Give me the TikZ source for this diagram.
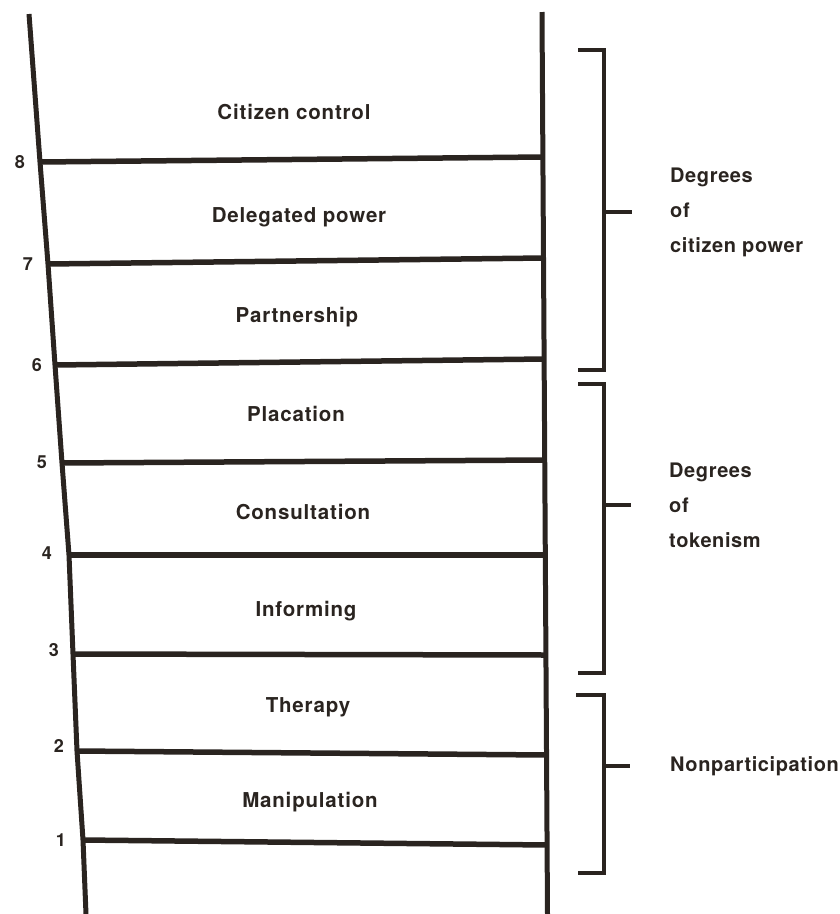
\documentclass[tikz,border=0pt]{standalone}
\usepackage{fontspec}
\setmainfont{TeX Gyre Heros}
\usepackage{xcolor}
\definecolor{Ink}{HTML}{2a2420}
\usetikzlibrary{positioning, calc}

\begin{document}
\begin{tikzpicture}[x=1pt, y=-1pt,
  rail/.style={draw=Ink, line width=5pt, line join=round},
  rung/.style={draw=Ink, line width=5.5pt},
  brack/.style={draw=Ink, line width=4.5pt, line join=miter},
  num/.style={font=\bfseries\fontsize{18}{18}\selectfont, text=Ink, inner sep=0pt},
  rungtxt/.style={font=\bfseries\fontsize{20.5}{20.5}\selectfont\addfontfeature{LetterSpace=4}, text=Ink, inner sep=0pt},
  grp/.style={font=\bfseries\fontsize{20}{35}\selectfont\addfontfeature{LetterSpace=3}, text=Ink, inner sep=0pt,
    anchor=west, align=left},
]
\useasboundingbox (0,0) rectangle (840,914);

%% -- Rails -------------------------------------------------------
\coordinate (Ltop) at (29,14);
\coordinate (L8) at (40,162);
\coordinate (L7) at (48,264);
\coordinate (L6) at (55,365);
\coordinate (L5) at (62,463);
\coordinate (L4) at (69,555);
\coordinate (L3) at (73,654);
\coordinate (L2) at (77,751);
\coordinate (L1) at (83,840);
\coordinate (Lbot) at (86,914);

\coordinate (Rtop) at (542,12);
\coordinate (R8) at (542.6,157);
\coordinate (R7) at (543.2,258);
\coordinate (R6) at (543.8,359);
\coordinate (R5) at (544.5,460);
\coordinate (R4) at (545.1,555);
\coordinate (R3) at (545.8,655);
\coordinate (R2) at (546.4,755);
\coordinate (R1) at (547,845);
\coordinate (Rbot) at (547.5,914);

\draw[rail] (Ltop) -- (L8) -- (L7) -- (L6) -- (L5) -- (L4) -- (L3) -- (L2) -- (L1) -- (Lbot);
\draw[rail] (Rtop) -- (Rbot);

%% -- Rungs -------------------------------------------------------
\draw[rung] (L8) -- (R8);
\draw[rung] (L7) -- (R7);
\draw[rung] (L6) -- (R6);
\draw[rung] (L5) -- (R5);
\draw[rung] (L4) -- (R4);
\draw[rung] (L3) -- (R3);
\draw[rung] (L2) -- (R2);
\draw[rung] (L1) -- (R1);

\node[num, left=15pt of L8] (n8) {8};
\node[num, left=15pt of L7] (n7) {7};
\node[num, left=13pt of L6] (n6) {6};
\node[num, left=15pt of L5, yshift=1pt] (n5) {5};
\node[num, left=17pt of L4, yshift=2pt] (n4) {4};
\node[num, left=14pt of L3, yshift=4pt] (n3) {3};
\node[num, left=13pt of L2, yshift=5pt] (n2) {2};
\node[num, left=17pt of L1] (n1) {1};

%% -- Rung labels -------------------------------------------------
\node[rungtxt] at (294,112) (control) {Citizen control};
\node[rungtxt] at (299,217) (delegated) {Delegated power};
\node[rungtxt] at (297,317) (partner) {Partnership};
\node[rungtxt] at (296,414) (placation) {Placation};
\node[rungtxt] at (303,512) (consult) {Consultation};
\node[rungtxt] at (306,611) (inform) {Informing};
\node[rungtxt] at (308,707) (therapy) {Therapy};
\node[rungtxt] at (310,802) (manip) {Manipulation};

%% -- Brackets ----------------------------------------------------
\draw[brack] (578,50) -- (604,50) -- (604,370) -- (578,370);
\draw[brack] (604,212) -- (632,212) coordinate (t1);
\node[grp, right=38pt of t1] (power) {Degrees\\of\\citizen power};

\draw[brack] (578,384) -- (604,384) -- (604,673) -- (578,673);
\draw[brack] (604,505) -- (631,505) coordinate (t2);
\node[grp, right=38pt of t2] (token) {Degrees\\of\\tokenism};

\draw[brack] (576,695) -- (604,695) -- (604,873) -- (578,873);
\draw[brack] (604,766) -- (630,766) coordinate (t3);
\node[grp, right=40pt of t3] (nonpart) {Nonparticipation};

\end{tikzpicture}
\end{document}
